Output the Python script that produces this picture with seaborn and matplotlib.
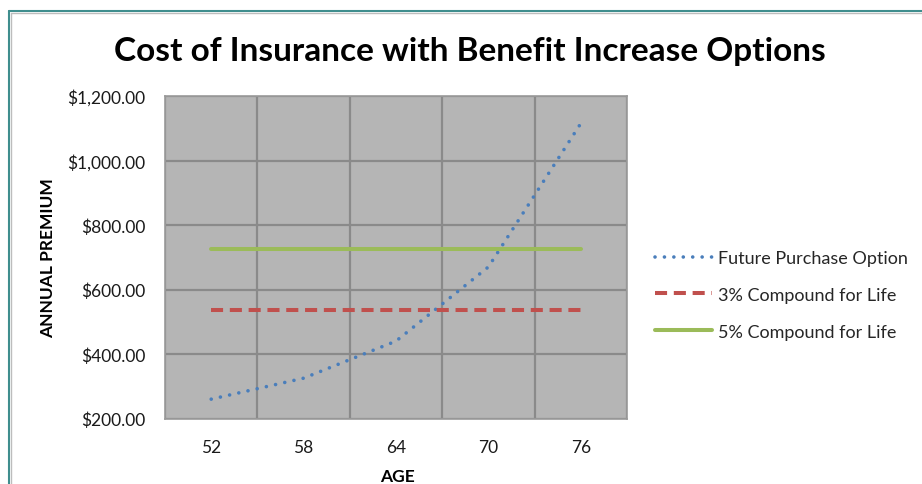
import matplotlib
matplotlib.use("Agg")
import matplotlib.pyplot as plt
import matplotlib.ticker as mticker
from matplotlib.lines import Line2D
import seaborn as sns
import pandas as pd

# Ages shown on the category axis
ages = ["52", "58", "64", "70", "76"]

# Annual premium by age for each benefit increase option
future_purchase = [260, 325, 440, 670, 1115]
compound_3 = [537, 537, 537, 537, 537]
compound_5 = [727, 727, 727, 727, 727]

series_names = ["Future Purchase Option", "3% Compound for Life", "5% Compound for Life"]
series_colors = ["#4A7EBB", "#C0504D", "#9BBB59"]

df = pd.DataFrame({
    "age": ages * 3,
    "pos": list(range(len(ages))) * 3,
    "premium": future_purchase + compound_3 + compound_5,
    "series": [s for s in series_names for _ in ages],
})

sns.set_theme(style="white")
plt.rcParams["font.family"] = ["Lato", "DejaVu Sans"]

W, H = 922, 485
fig = plt.figure(figsize=(W / 100, H / 100), dpi=100)

# plot area placed in pixel terms
left, right, top, bottom = 165, 627, 97, 419.5
ax = fig.add_axes([left / W, 1 - bottom / H, (right - left) / W, (bottom - top) / H])
ax.set_facecolor("#B5B5B5")

dot_dash = (0.01, 2.6)
long_dash = (3.0, 1.67)
sns.lineplot(data=df, x="pos", y="premium", hue="series", style="series",
             palette=dict(zip(series_names, series_colors)),
             dashes={series_names[0]: dot_dash,
                     series_names[1]: long_dash,
                     series_names[2]: ""},
             sort=False, ax=ax, legend=False)

widths = [2.6, 2.9, 2.9]
for line, lw in zip(ax.get_lines(), widths):
    line.set_linewidth(lw)
ax.get_lines()[0].set_dash_capstyle("round")

ax.set_xlim(-0.5, len(ages) - 0.5)
ax.set_ylim(200, 1200)
ax.set_xticks(range(len(ages)))
ax.set_xticklabels(ages)
ax.xaxis.set_minor_locator(mticker.FixedLocator([i - 0.5 for i in range(len(ages) + 1)]))
ax.yaxis.set_major_locator(mticker.MultipleLocator(200))
ax.yaxis.set_major_formatter(mticker.FuncFormatter(lambda v, p: f"${v:,.2f}"))

ax.grid(False)
ax.grid(which="minor", axis="x", color="#8A8A8A", linewidth=1.6)
ax.grid(which="major", axis="y", color="#8A8A8A", linewidth=1.6)
ax.set_axisbelow(True)
ax.tick_params(axis="both", which="both", length=0, labelsize=12.5, colors="#1a1a1a")
ax.tick_params(axis="y", pad=14)
ax.tick_params(axis="x", pad=15)
for sp in ax.spines.values():
    sp.set_color("#9A9A9A")
    sp.set_linewidth(1.2)
ax.set_xlabel("")
ax.set_ylabel("")

fig.text(470 / W, 1 - 51 / H, "Cost of Insurance with Benefit Increase Options",
         ha="center", va="center", fontsize=24, fontweight="bold", color="#000000")
fig.text(48 / W, 1 - 258.5 / H, "ANNUAL PREMIUM", rotation=90,
         ha="center", va="center", fontsize=12.5, fontweight="bold", color="#000000")
fig.text(397 / W, 1 - 477 / H, "AGE",
         ha="center", va="center", fontsize=12.5, fontweight="bold", color="#000000")

handles = [Line2D([], [], color=c, linewidth=lw) for c, lw in zip(series_colors, widths)]
handles[0].set_dashes(dot_dash)
handles[0].set_dash_capstyle("round")
handles[1].set_dashes(long_dash)
fig.legend(handles, series_names, loc="upper left",
           bbox_to_anchor=(655 / W, 1 - 251 / H), frameon=False,
           fontsize=13, handlelength=3.15, handletextpad=0.33,
           labelspacing=1.15, borderpad=0, borderaxespad=0)

# chart frame
fig.add_artist(Line2D([9 / W, 9 / W], [0, 1 - 12 / H], transform=fig.transFigure,
                      color="#3F8E8E", linewidth=1.5))
fig.add_artist(Line2D([9 / W, 1], [1 - 12 / H, 1 - 12 / H], transform=fig.transFigure,
                      color="#3F8E8E", linewidth=1.5))
fig.add_artist(Line2D([11 / W, 11 / W], [0, 1 - 14 / H], transform=fig.transFigure,
                      color="#BDBDBD", linewidth=1.0))
fig.add_artist(Line2D([11 / W, 1], [1 - 14 / H, 1 - 14 / H], transform=fig.transFigure,
                      color="#BDBDBD", linewidth=1.0))

fig.savefig("out.png", dpi=100)
